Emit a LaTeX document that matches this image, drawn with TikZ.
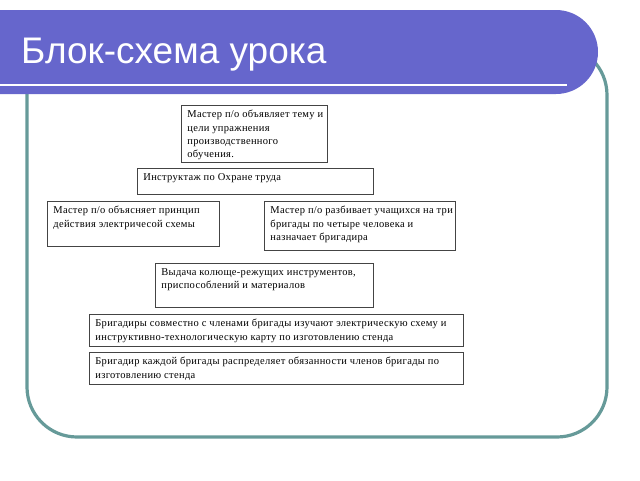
\documentclass[tikz,border=0pt]{standalone}
\usepackage{fontspec}
\setmainfont{Liberation Serif}[LetterSpace=3]
\newfontfamily\titlefont{Liberation Sans}
\definecolor{titlebg}{HTML}{6666CC}
\definecolor{framecol}{HTML}{669A99}
\definecolor{boxline}{HTML}{444444}
\tikzset{
  stagebox/.style={draw=boxline, line width=0.8pt, fill=white, anchor=north west,
    inner xsep=6pt, inner ysep=4pt, font=\fontsize{10.5}{13.3}\selectfont},
}
\newcommand{\bxt}[3]{\parbox[c][#2pt][t]{#1pt}{\vspace*{1pt}\raggedright\hfuzz=200pt #3}}
\newcommand{\tl}[1]{\mbox{#1}}
\begin{document}
\begin{tikzpicture}[x=1pt,y=-1pt]
\useasboundingbox (0,0) rectangle (640,480);
% frame
\draw[framecol, line width=3.2pt, rounded corners=50pt] (27,45) rectangle (607,437);
% title bar
\fill[titlebg] (0,10) -- (556,10) arc[start angle=-90, end angle=90, radius=42] -- (0,94) -- cycle;
\draw[white, line width=2pt] (0,85) -- (567,85);
\node[anchor=base west, text=white, inner sep=0pt, font=\titlefont\fontsize{37}{40}\selectfont] (title) at (21,63) {Блок-схема урока};
% boxes
\node[stagebox] (b1) at (181,105) {\bxt{134}{49}{\tl{Мастер п/о объявляет тему и}\\ \tl{цели упражнения}\\ \tl{производственного}\\ \tl{обучения.}}};
\node[stagebox] (b2) at (137,168) {\bxt{224}{18}{\tl{Инструктаж по Охране труда}}};
\node[stagebox] (b3) at (47,201) {\bxt{160}{37}{\tl{Мастер п/о объясняет принцип}\\ \tl{действия электричесой схемы}}};
\node[stagebox] (b4) at (264,201) {\bxt{179}{41}{\tl{Мастер п/о разбивает учащихся на три}\\ \tl{бригады по четыре человека и}\\ \tl{назначает бригадира}}};
\node[stagebox] (b5) at (155,263) {\bxt{206}{36}{\tl{Выдача колюще-режущих инструментов,}\\ \tl{приспособлений и материалов}}};
\node[stagebox] (b6) at (89,314) {\bxt{362}{24}{\tl{Бригадиры совместно с членами бригады изучают электрическую схему и}\\ \tl{инструктивно-технологическую карту по изготовлению стенда}}};
\node[stagebox] (b7) at (89,352) {\bxt{362}{24}{\tl{Бригадир каждой бригады распределяет обязанности членов бригады по}\\ \tl{изготовлению стенда}}};
\end{tikzpicture}
\end{document}
